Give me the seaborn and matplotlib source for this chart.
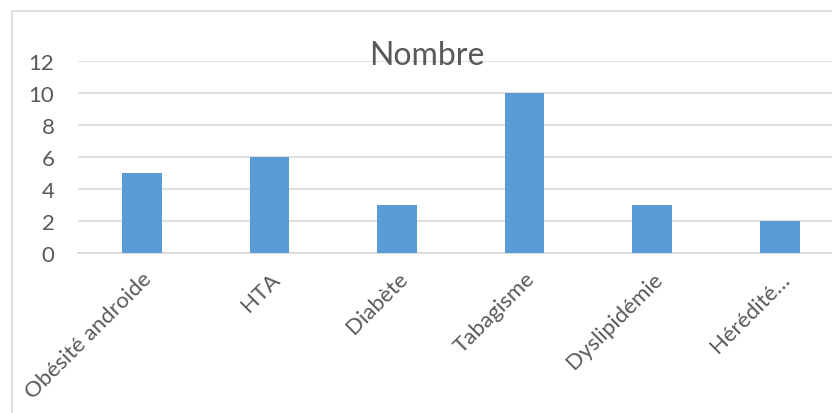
import matplotlib
matplotlib.use("Agg")
import matplotlib.pyplot as plt
import seaborn as sns
import pandas as pd
from matplotlib.patches import Rectangle

categories = ["Obésité androide", "HTA", "Diabète", "Tabagisme", "Dyslipidémie", "Hérédité…"]
counts = [5, 6, 3, 10, 3, 2]
y_ticks = [0, 2, 4, 6, 8, 10, 12]
title = "Nombre"

BAR = "#5B9BD5"
GRID = "#D9D9D9"
TEXT = "#595959"

sns.set_theme(style="white")
plt.rcParams["font.family"] = ["Lato", "DejaVu Sans"]

W, H = 832, 414
fig = plt.figure(figsize=(W / 100, H / 100), dpi=100)
fig.patch.set_facecolor("white")

# chart frame (extends past the right and bottom edges)
fig.patches.append(Rectangle((12 / W, -0.1), 1.2, (H - 12) / H + 0.1,
                             transform=fig.transFigure, fill=False,
                             edgecolor=GRID, linewidth=1.2))

ax = fig.add_axes([78 / W, 160 / H, (W - 78) / W, 192 / H])
df = pd.DataFrame({"cat": categories, "n": counts})
sns.barplot(data=df, x="cat", y="n", color=BAR, saturation=1,
            width=0.31, linewidth=0, ax=ax, zorder=3)

ax.set_xlim(-0.5, -0.5 + (W - 78) / 127.6)
ax.set_ylim(0, 12)
ax.set_yticks(y_ticks)
ax.yaxis.grid(True, color=GRID, linewidth=1.2, zorder=0)
ax.set_axisbelow(True)
for s in ["top", "right", "left"]:
    ax.spines[s].set_visible(False)
ax.spines["bottom"].set_color(GRID)
ax.spines["bottom"].set_linewidth(1.2)
ax.set_xlabel("")
ax.set_ylabel("")
ax.tick_params(axis="y", length=0, pad=17, labelsize=16, labelcolor=TEXT)
ax.tick_params(axis="x", length=0, pad=11, labelsize=16, labelcolor=TEXT)
ax.set_xticks(range(len(categories)))
ax.set_xticklabels(categories, rotation=45, ha="right", va="top",
                   rotation_mode="anchor")
ax.set_facecolor("none")

fig.text(427 / W, 1 - 56 / H, title, ha="center", va="center",
         fontsize=23, color=TEXT)

fig.savefig("out.png", dpi=100)
